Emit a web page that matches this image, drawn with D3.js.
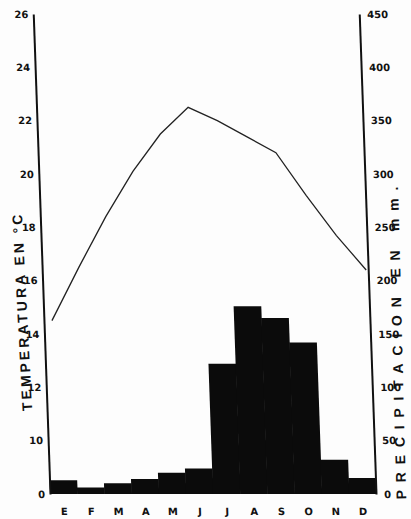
<!DOCTYPE html>
<html>
<head>
<meta charset="utf-8">
<script src="https://cdn.jsdelivr.net/npm/d3@7"></script>
<style>
  body { margin: 0; background: #fff; }
  .ax text { font-family: "DejaVu Sans", sans-serif; font-weight: bold; font-size: 10px; fill: #111; }
  .ax .domain { stroke: #111; stroke-width: 2; }
  .title { font-family: "Liberation Sans", Arial, sans-serif; font-weight: bold; font-size: 14px; fill: #111; }
</style>
</head>
<body>
<div id="chart"></div>
<script>
// months (Spanish initials), monthly rainfall in mm and mean temperature in °C
const months = ["E", "F", "M", "A", "M", "J", "J", "A", "S", "O", "N", "D"];
const precip = [13, 6, 10, 14, 20, 24, 122, 176, 165, 142, 32, 15];
const temp = [14.5, 16.5, 18.4, 20.1, 21.5, 22.5, 22.0, 21.4, 20.8, 19.2, 17.7, 16.4];
const tempTicks = [0, 10, 12, 14, 16, 18, 20, 22, 24, 26];
const precipTicks = [0, 50, 100, 150, 200, 250, 300, 350, 400, 450];

const width = 411;
const height = 519;
const yBase = 494, yTop = 14, xLeft = 50, xRight = 376;

const svg = d3.select("#chart")
  .append("svg")
  .attr("width", width)
  .attr("height", height);

svg.append("rect").attr("width", width).attr("height", height).attr("fill", "#fdfdfd");

const idx = d3.range(months.length);

// precipitation scale on the right, temperature on the left (broken below 10 °C)
const yP = d3.scaleLinear().domain([0, 450]).range([yBase, yTop]);
const yT = d3.scaleLinear().domain([0, 10, 26]).range([yBase, yP(50), yP(450)]);
const x = d3.scaleBand().domain(idx).range([xLeft, xRight]).padding(0);
const xT = d3.scalePoint().domain(idx).range([58, 374]);

// the scan is slightly sheared, so lean the plot a little
const plot = svg.append("g")
  .attr("transform", `translate(0,${yBase}) skewX(2) translate(0,${-yBase})`);

plot.selectAll("rect.bar")
  .data(precip)
  .join("rect")
  .attr("class", "bar")
  .attr("x", (d, i) => x(i))
  .attr("width", x.bandwidth() + 0.5)
  .attr("y", d => yP(d))
  .attr("height", d => yBase - yP(d))
  .attr("fill", "#0b0b0b");

plot.append("path")
  .datum(temp)
  .attr("d", d3.line().x((d, i) => xT(i)).y(d => yT(d)))
  .attr("fill", "none")
  .attr("stroke", "#222")
  .attr("stroke-width", 1.3);

plot.append("g")
  .attr("class", "ax")
  .attr("transform", `translate(${xLeft},0)`)
  .call(d3.axisLeft(yT).tickValues(tempTicks).tickSize(0).tickPadding(5));

plot.append("g")
  .attr("class", "ax")
  .attr("transform", `translate(${xRight},0)`)
  .call(d3.axisRight(yP).tickValues(precipTicks).tickSize(0).tickPadding(8));

const axB = plot.append("g")
  .attr("class", "ax")
  .attr("transform", `translate(0,${yBase})`)
  .call(d3.axisBottom(x).tickFormat(i => months[i]).tickSize(0).tickPadding(14));
axB.select(".domain").remove();

// axis titles
svg.append("text")
  .attr("class", "title")
  .attr("transform", "translate(27,311) rotate(-93)")
  .attr("text-anchor", "middle")
  .style("letter-spacing", "3px")
  .text("TEMPERATURA EN °C");

svg.append("text")
  .attr("class", "title")
  .attr("transform", "translate(402,339) rotate(-91.5)")
  .attr("text-anchor", "middle")
  .style("letter-spacing", "7.8px")
  .text("PRECIPITACION EN mm.");
</script>
</body>
</html>
